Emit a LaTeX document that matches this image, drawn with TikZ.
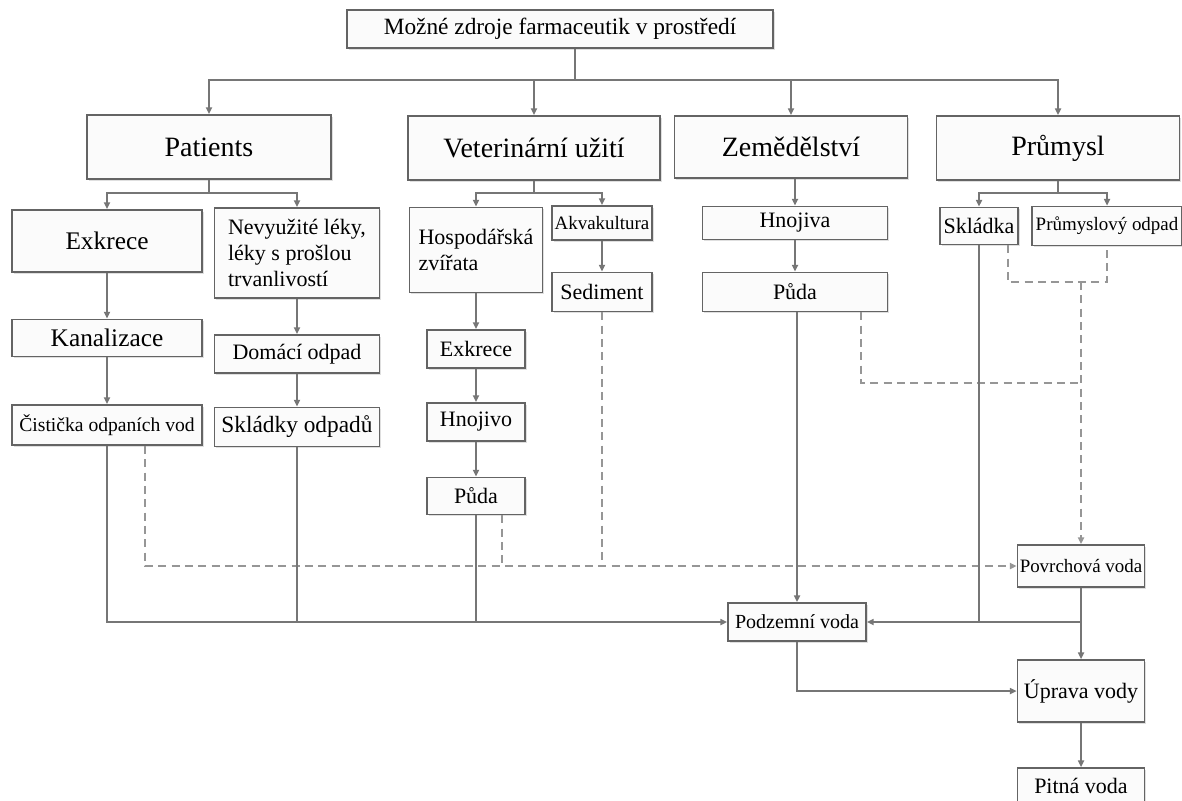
\documentclass[tikz,border=0pt]{standalone}
\usepackage{fontspec}
\setmainfont{Liberation Serif}
\usetikzlibrary{arrows.meta,shadows}
\definecolor{fzgray}{RGB}{118,118,118}
\definecolor{fzdgray}{RGB}{100,100,100}
\definecolor{fzlgray}{RGB}{150,150,150}
\definecolor{fzfill}{RGB}{251,251,251}
\tikzset{
  fzbox/.style={draw=fzdgray, line width=1.3pt, fill=fzfill, align=center, inner sep=1pt,
    drop shadow={shadow xshift=1.2pt, shadow yshift=-1.2pt, opacity=.25}},
  sz/.style 2 args={minimum width=#1*0.75pt, minimum height=#2*0.75pt},
  fzline/.style={draw=fzgray, line width=1.2pt},
  fzarr/.style={-{Triangle[length=5pt, width=4.5pt]}, draw=fzgray, line width=1.2pt},
  fzdash/.style={draw=fzlgray, line width=1.4pt, dash pattern=on 6pt off 4pt},
  fzdasharr/.style={fzdash, -{Triangle[length=5pt, width=4.5pt]}}
}

\begin{document}
\begin{tikzpicture}[x=0.75pt, y=-0.75pt]
  \useasboundingbox[fill=white] (0,0) rectangle (1182,800);
  % top and sources
  \node[fzbox, sz={426}{38}, font=\fontsize{17.5}{21}\selectfont] (zdroje) at (560,29) {Možné zdroje farmaceutik v prostředí};
  \node[fzbox, sz={244}{64}, font=\fontsize{21}{25}\selectfont] (patients) at (209,147) {Patients};
  \node[fzbox, sz={252}{64}, font=\fontsize{21}{25}\selectfont] (vet) at (534,148) {Veterinární užití};
  \node[fzbox, sz={233}{62}, font=\fontsize{21}{25}\selectfont] (zem) at (791,147) {Zemědělství};
  \node[fzbox, sz={243}{64}, font=\fontsize{21}{25}\selectfont] (prum) at (1058,148) {Průmysl};
  % patients
  \node[fzbox, sz={190}{62}, font=\fontsize{19}{23}\selectfont] (exkrece) at (107,241) {Exkrece};
  \node[fzbox, sz={165}{90}, font=\fontsize{16.5}{19.5}\selectfont, align=left] (nevyuz) at (297,253) {Nevyužité léky,\\léky s prošlou\\trvanlivostí};
  \node[fzbox, sz={190}{37}, font=\fontsize{19}{23}\selectfont] (kanal) at (107,338) {Kanalizace};
  \node[fzbox, sz={190}{40}, font=\fontsize{14.7}{18}\selectfont] (cisticka) at (107,425) {Čistička odpaních vod};
  \node[fzbox, sz={165}{38}, font=\fontsize{16.5}{20}\selectfont] (domaci) at (297,354) {Domácí odpad};
  \node[fzbox, sz={165}{39}, font=\fontsize{17.5}{21}\selectfont] (skladky) at (297,427) {Skládky odpadů};
  % veterinary
  \node[fzbox, sz={133}{85}, font=\fontsize{16.5}{20}\selectfont, align=left] (hospod) at (476,250) {Hospodářská\\zvířata};
  \node[fzbox, sz={100}{34}, font=\fontsize{14.2}{17}\selectfont, inner sep=0pt] (akva) at (602,223) {Akvakultura};
  \node[fzbox, sz={100}{39}, font=\fontsize{16.5}{20}\selectfont] (sediment) at (602,292) {Sediment};
  \node[fzbox, sz={98}{38}, font=\fontsize{16.5}{20}\selectfont] (vexkrece) at (476,349) {Exkrece};
  \node[fzbox, sz={98}{38}, font=\fontsize{16.5}{20}\selectfont] (vhnojivo) at (476,422) {Hnojivo};
  \node[fzbox, sz={98}{37}, font=\fontsize{16.5}{20}\selectfont] (vpuda) at (476,496) {Půda};
  % agriculture
  \node[fzbox, sz={185}{33}, font=\fontsize{16.5}{20}\selectfont] (hnojiva) at (795,223) {Hnojiva};
  \node[fzbox, sz={185}{39}, font=\fontsize{16.5}{20}\selectfont] (zpuda) at (795,292) {Půda};
  % industry
  \node[fzbox, sz={78}{37}, font=\fontsize{16.5}{20}\selectfont, inner sep=0pt] (skladka) at (979,226) {Skládka};
  \node[fzbox, sz={150}{39}, font=\fontsize{14.2}{17}\selectfont, inner sep=0pt] (podpad) at (1107,226) {Průmyslový odpad};
  % water
  \node[fzbox, sz={127}{42}, font=\fontsize{14.2}{17}\selectfont, inner sep=0pt] (povrch) at (1081,566) {Povrchová voda};
  \node[fzbox, sz={138}{38}, font=\fontsize{15}{18}\selectfont] (podzem) at (797,622) {Podzemní voda};
  \node[fzbox, sz={127}{62}, font=\fontsize{16.5}{20}\selectfont] (uprava) at (1081,691) {Úprava vody};
  \node[fzbox, sz={127}{36}, font=\fontsize{16.5}{20}\selectfont] (pitna) at (1081,786) {Pitná voda};

  % top split
  \coordinate (hub) at (575,80);
  \draw[fzline] (zdroje.south -| hub) -- (hub);
  \foreach \n in {patients,vet,zem,prum}
    \draw[fzarr] (hub) -| (\n.north);
  % second level splits
  \coordinate (patj) at (209,193);
  \coordinate (vetj) at (534,193);
  \coordinate (prumj) at (1058,193);
  \draw[fzline] (patients.south) -- (patj);
  \draw[fzarr] (patj) -| (exkrece.north);
  \draw[fzarr] (patj) -| (nevyuz.north);
  \draw[fzline] (vet.south) -- (vetj);
  \draw[fzarr] (vetj) -| (hospod.north);
  \draw[fzarr] (vetj) -| (akva.north);
  \draw[fzline] (prum.south) -- (prumj);
  \draw[fzarr] (prumj) -| (skladka.north);
  \draw[fzarr] (prumj) -| (podpad.north);
  \draw[fzarr] (zem.south -| hnojiva.north) -- (hnojiva.north);
  % chains
  \draw[fzarr] (exkrece) -- (kanal);
  \draw[fzarr] (kanal) -- (cisticka);
  \draw[fzarr] (nevyuz) -- (domaci);
  \draw[fzarr] (domaci) -- (skladky);
  \draw[fzarr] (hospod) -- (vexkrece);
  \draw[fzarr] (vexkrece) -- (vhnojivo);
  \draw[fzarr] (vhnojivo) -- (vpuda);
  \draw[fzarr] (akva) -- (sediment);
  \draw[fzarr] (hnojiva) -- (zpuda);

  % dashed paths to surface water
  \coordinate (dl) at (145,566);
  \coordinate (dv) at (502,566);
  \coordinate (ds) at (602,566);
  \coordinate (dz) at (861,383);
  \coordinate (di) at (1081,282);
  \draw[fzdasharr] (cisticka.south -| dl) |- (povrch.west);
  \draw[fzdash] (vpuda.south -| dv) -- (dv);
  \draw[fzdash] (sediment.south) -- (ds);
  \draw[fzdash] (zpuda.south -| dz) |- (dz -| di);
  \draw[fzdash] (skladka.south -| 1008,0) |- (di) -| (podpad.south);
  \draw[fzdasharr] (di) -- (povrch.north);

  % solid paths to ground water
  \draw[fzarr] (cisticka.south) |- (podzem.west);
  \draw[fzline] (skladky.south) -- (skladky.south |- podzem.west);
  \draw[fzline] (vpuda.south) -- (vpuda.south |- podzem.west);
  \draw[fzarr] (zpuda.south -| podzem.north) -- (podzem.north);
  \draw[fzline] (skladka.south) -- (skladka.south |- podzem.east);
  \draw[fzarr] (povrch.south |- podzem.east) -- (podzem.east);
  \draw[fzarr] (povrch) -- (uprava);
  \draw[fzarr] (podzem.south) |- (uprava.west);
  \draw[fzarr] (uprava) -- (pitna);
\end{tikzpicture}
\end{document}
